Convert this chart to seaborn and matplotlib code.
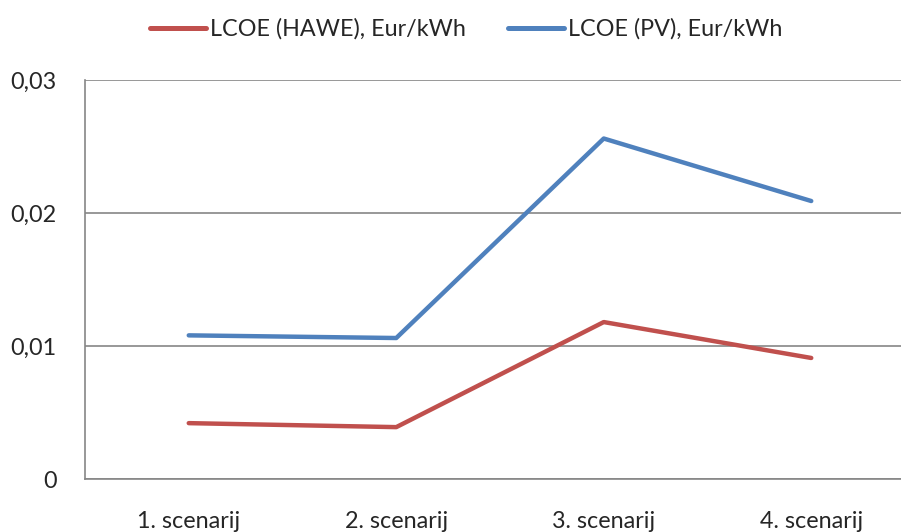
import pandas as pd
import matplotlib
matplotlib.use("Agg")
import matplotlib.pyplot as plt
import seaborn as sns

# ------------------------------------------------------------------
# data
# ------------------------------------------------------------------
scenarios = ["1. scenarij", "2. scenarij", "3. scenarij", "4. scenarij"]
lcoe_hawe = [0.0042, 0.0039, 0.0118, 0.0091]
lcoe_pv = [0.0108, 0.0106, 0.0256, 0.0209]
series_names = ["LCOE (HAWE), Eur/kWh", "LCOE (PV), Eur/kWh"]
y_ticks = [0, 0.01, 0.02, 0.03]
y_tick_labels = ["0", "0,01", "0,02", "0,03"]

df = pd.DataFrame({
    "x": list(range(len(scenarios))) * 2,
    "value": lcoe_hawe + lcoe_pv,
    "series": [series_names[0]] * len(scenarios) + [series_names[1]] * len(scenarios),
})

# ------------------------------------------------------------------
# plot
# ------------------------------------------------------------------
sns.set_style("white")
plt.rcParams["font.family"] = ["Lato", "DejaVu Sans"]

FS = 16.8
GRID = "#868686"
palette = {series_names[0]: "#C0504D", series_names[1]: "#4F81BD"}

fig = plt.figure(figsize=(9.01, 5.32), dpi=100)
ax = fig.add_axes([85 / 901, 1 - 479 / 532, 830 / 901, 399 / 532])

sns.lineplot(data=df, x="x", y="value", hue="series", palette=palette,
             linewidth=3.2, ax=ax, legend=False, zorder=3,
             solid_capstyle="round")

ax.set_xlim(-0.5, 3.5)
ax.set_ylim(0, 0.03)
ax.set_yticks(y_ticks)
ax.set_yticklabels(y_tick_labels, fontsize=FS)
ax.set_xticks(range(len(scenarios)))
ax.set_xticklabels(scenarios, fontsize=FS)
ax.set_xticks([-0.5, 0.5, 1.5, 2.5], minor=True)
ax.tick_params(axis="x", which="major", length=0, pad=23)
ax.tick_params(axis="x", which="minor", length=5, color=GRID, width=1.2, direction="out")
ax.tick_params(axis="y", length=6, color=GRID, width=1.2, direction="out", pad=14.5)
ax.set_xlabel("")
ax.set_ylabel("")

ax.yaxis.grid(True, color=GRID, linewidth=1.2)
ax.set_axisbelow(True)
for side in ["top", "right"]:
    ax.spines[side].set_visible(False)
for side in ["left", "bottom"]:
    ax.spines[side].set_color(GRID)
    ax.spines[side].set_linewidth(1.2)

handles = [plt.Line2D([], [], color=palette[n], linewidth=3.6, solid_capstyle="round")
           for n in series_names]
fig.legend(handles, series_names, loc="center", bbox_to_anchor=(466 / 901, 1 - 29 / 532),
           ncol=2, frameon=False, fontsize=FS, handlelength=2.4, handletextpad=0.18,
           columnspacing=1.8, borderpad=0, borderaxespad=0)

fig.savefig("out.png", dpi=100)
